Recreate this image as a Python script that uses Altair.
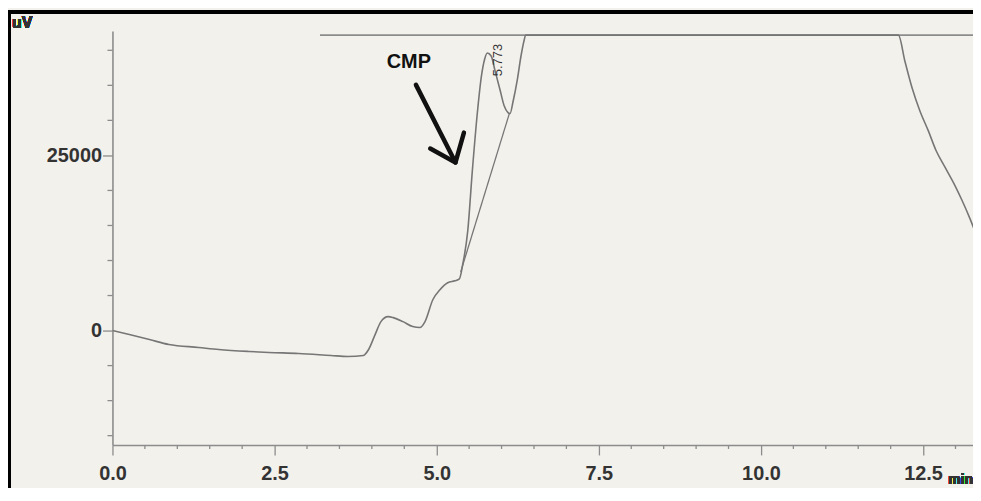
import altair as alt
import pandas as pd

# ---- data ----
trace_t = [0.00, 0.26, 0.57, 0.87, 1.33, 1.64, 2.10, 2.41, 2.87, 3.37, 3.63, 3.87, 3.95,
           4.05, 4.14, 4.25, 4.33, 4.48, 4.63, 4.74, 4.82, 4.94, 5.05, 5.17, 5.28, 5.35,
           5.40, 5.48, 5.55, 5.63, 5.69, 5.74, 5.78, 5.84, 5.90, 5.98, 6.04, 6.10, 6.13,
           6.18, 6.24, 6.30, 6.35, 6.37, 12.12, 12.22, 12.33, 12.45, 12.58, 12.70, 12.84,
           12.99, 13.10, 13.22, 13.31]
trace_uv = [0, -570, -1280, -1990, -2410, -2700, -2980, -3120, -3270, -3550, -3690, -3550, -2700,
            -570, 1280, 1990, 1850, 1280, 570, 430, 1280, 4400, 5820, 6820, 7100, 7380,
            9370, 14340, 22860, 31380, 36350, 38770, 39620, 39190, 37060, 34220, 32090, 31100, 30960,
            32800, 35640, 39190, 41500, 42170, 42170, 38450, 34650, 31380, 28540, 25700, 23290,
            20730, 18600, 16050, 13920]

top_t = [3.2, 13.4]
top_uv = [42170, 42170]

base_t = [5.37, 6.12]
base_uv = [8380, 30960]

arrow_part = ["shaft", "shaft", "head", "head", "head"]
arrow_order = [0, 1, 0, 1, 2]
arrow_t = [4.68, 5.29, 4.90, 5.29, 5.42]
arrow_uv = [35070, 24000, 25980, 24000, 28260]

x_major = [0.0, 2.5, 5.0, 7.5, 10.0, 12.5]
x_minor = [0.5, 1.0, 1.5, 2.0, 3.0, 3.5, 4.0, 4.5, 5.5, 6.0, 6.5, 7.0,
           8.0, 8.5, 9.0, 9.5, 10.5, 11.0, 11.5, 12.0, 13.0]
y_major = [0, 25000]
y_minor = [-15000, -10000, -5000, 5000, 10000, 15000, 20000, 30000, 35000, 40000]

X_DOM = [0, 13.27]
Y_DOM = [-16330, 42740]

trace_df = pd.DataFrame({"t": trace_t, "uv": trace_uv})
top_df = pd.DataFrame({"t": top_t, "uv": top_uv})
base_df = pd.DataFrame({"t": base_t, "uv": base_uv})
arrow_df = pd.DataFrame({"part": arrow_part, "o": arrow_order, "t": arrow_t, "uv": arrow_uv})
cmp_df = pd.DataFrame({"t": [4.57], "uv": [38340], "label": ["CMP"]})
peak_df = pd.DataFrame({"t": [5.95], "uv": [38620], "label": ["5.773"]})
xminor_df = pd.DataFrame({"t": x_minor})
yminor_df = pd.DataFrame({"uv": y_minor})

AX = "#8c8c8c"
LINE = "#767676"
FONT = "Liberation Sans"
H = 416

xs = alt.Scale(domain=X_DOM, nice=False, zero=False)
ys = alt.Scale(domain=Y_DOM, nice=False, zero=False)

x_axis = alt.Axis(
    title=None, values=x_major, grid=False, format=".1f", labelOverlap=False,
    tickSize=10, labelPadding=9, labelFlush=False,
)
y_axis = alt.Axis(
    title=None, values=y_major, grid=False, format="d", labelOverlap=False,
    tickSize=10, labelPadding=1, labelFlush=False,
)

trace = alt.Chart(trace_df).mark_line(color=LINE, strokeWidth=1.6, clip=True,
                                      interpolate="monotone").encode(
    x=alt.X("t:Q", scale=xs, axis=x_axis),
    y=alt.Y("uv:Q", scale=ys, axis=y_axis),
)

xminor = alt.Chart(xminor_df).mark_rule(color=AX, strokeWidth=1.3).encode(
    x=alt.X("t:Q", scale=xs), y=alt.value(H), y2=alt.value(H + 4)
)
yminor = alt.Chart(yminor_df).mark_rule(color=AX, strokeWidth=1.3).encode(
    y=alt.Y("uv:Q", scale=ys), x=alt.value(-5), x2=alt.value(0)
)

top = alt.Chart(top_df).mark_line(color=AX, strokeWidth=1.6, clip=True).encode(
    x=alt.X("t:Q", scale=xs), y=alt.Y("uv:Q", scale=ys)
)
base = alt.Chart(base_df).mark_line(color=LINE, strokeWidth=1.3).encode(
    x=alt.X("t:Q", scale=xs), y=alt.Y("uv:Q", scale=ys)
)
arrow = alt.Chart(arrow_df).mark_line(color="#111111", strokeWidth=4.5, strokeCap="round",
                                      strokeJoin="round").encode(
    x=alt.X("t:Q", scale=xs), y=alt.Y("uv:Q", scale=ys),
    detail="part:N", order="o:Q",
)
cmp_text = alt.Chart(cmp_df).mark_text(font=FONT, fontSize=20, fontWeight="bold",
                                       color="#111111").encode(
    x=alt.X("t:Q", scale=xs), y=alt.Y("uv:Q", scale=ys), text="label:N"
)
peak_text = alt.Chart(peak_df).mark_text(font=FONT, fontSize=13, angle=270,
                                         color="#333333").encode(
    x=alt.X("t:Q", scale=xs), y=alt.Y("uv:Q", scale=ys), text="label:N"
)

# frame of the scanned picture and loose labels
frame_left = alt.Chart(trace_df).mark_rule(color="#000000", strokeWidth=3).encode(
    x=alt.value(-104), y=alt.value(-19), y2=alt.value(470)
)
frame_top = alt.Chart(trace_df).mark_rule(color="#000000", strokeWidth=3).encode(
    x=alt.value(-105), x2=alt.value(880), y=alt.value(-19)
)
uv_text = alt.Chart(trace_df).mark_text(text="uV", font=FONT, fontSize=16, fontWeight="bold",
                                        color="#333333", align="left", baseline="middle").encode(
    x=alt.value(-101), y=alt.value(-8)
)
min_text = alt.Chart(trace_df).mark_text(text="min", font=FONT, fontSize=14, fontWeight="bold",
                                         color="#333333", align="right", baseline="bottom").encode(
    x=alt.value(865), y=alt.value(458)
)

chart = alt.layer(
    top, trace, xminor, yminor, base, arrow, cmp_text, peak_text,
    frame_left, frame_top, uv_text, min_text
).properties(
    width=865, height=H,
    autosize=alt.AutoSizeParams(type="none"),
    padding={"left": 105, "top": 22, "right": 0, "bottom": 42},
    background="#f3f1ec",
).configure_view(stroke=None).configure_axis(
    domainColor=AX, domainWidth=1.6, tickColor=AX, tickWidth=1.3,
    labelFont=FONT, labelFontSize=20, labelFontWeight="bold", labelColor="#333333",
)

chart.save("out.html", embed_options={"renderer": "svg", "actions": False})
